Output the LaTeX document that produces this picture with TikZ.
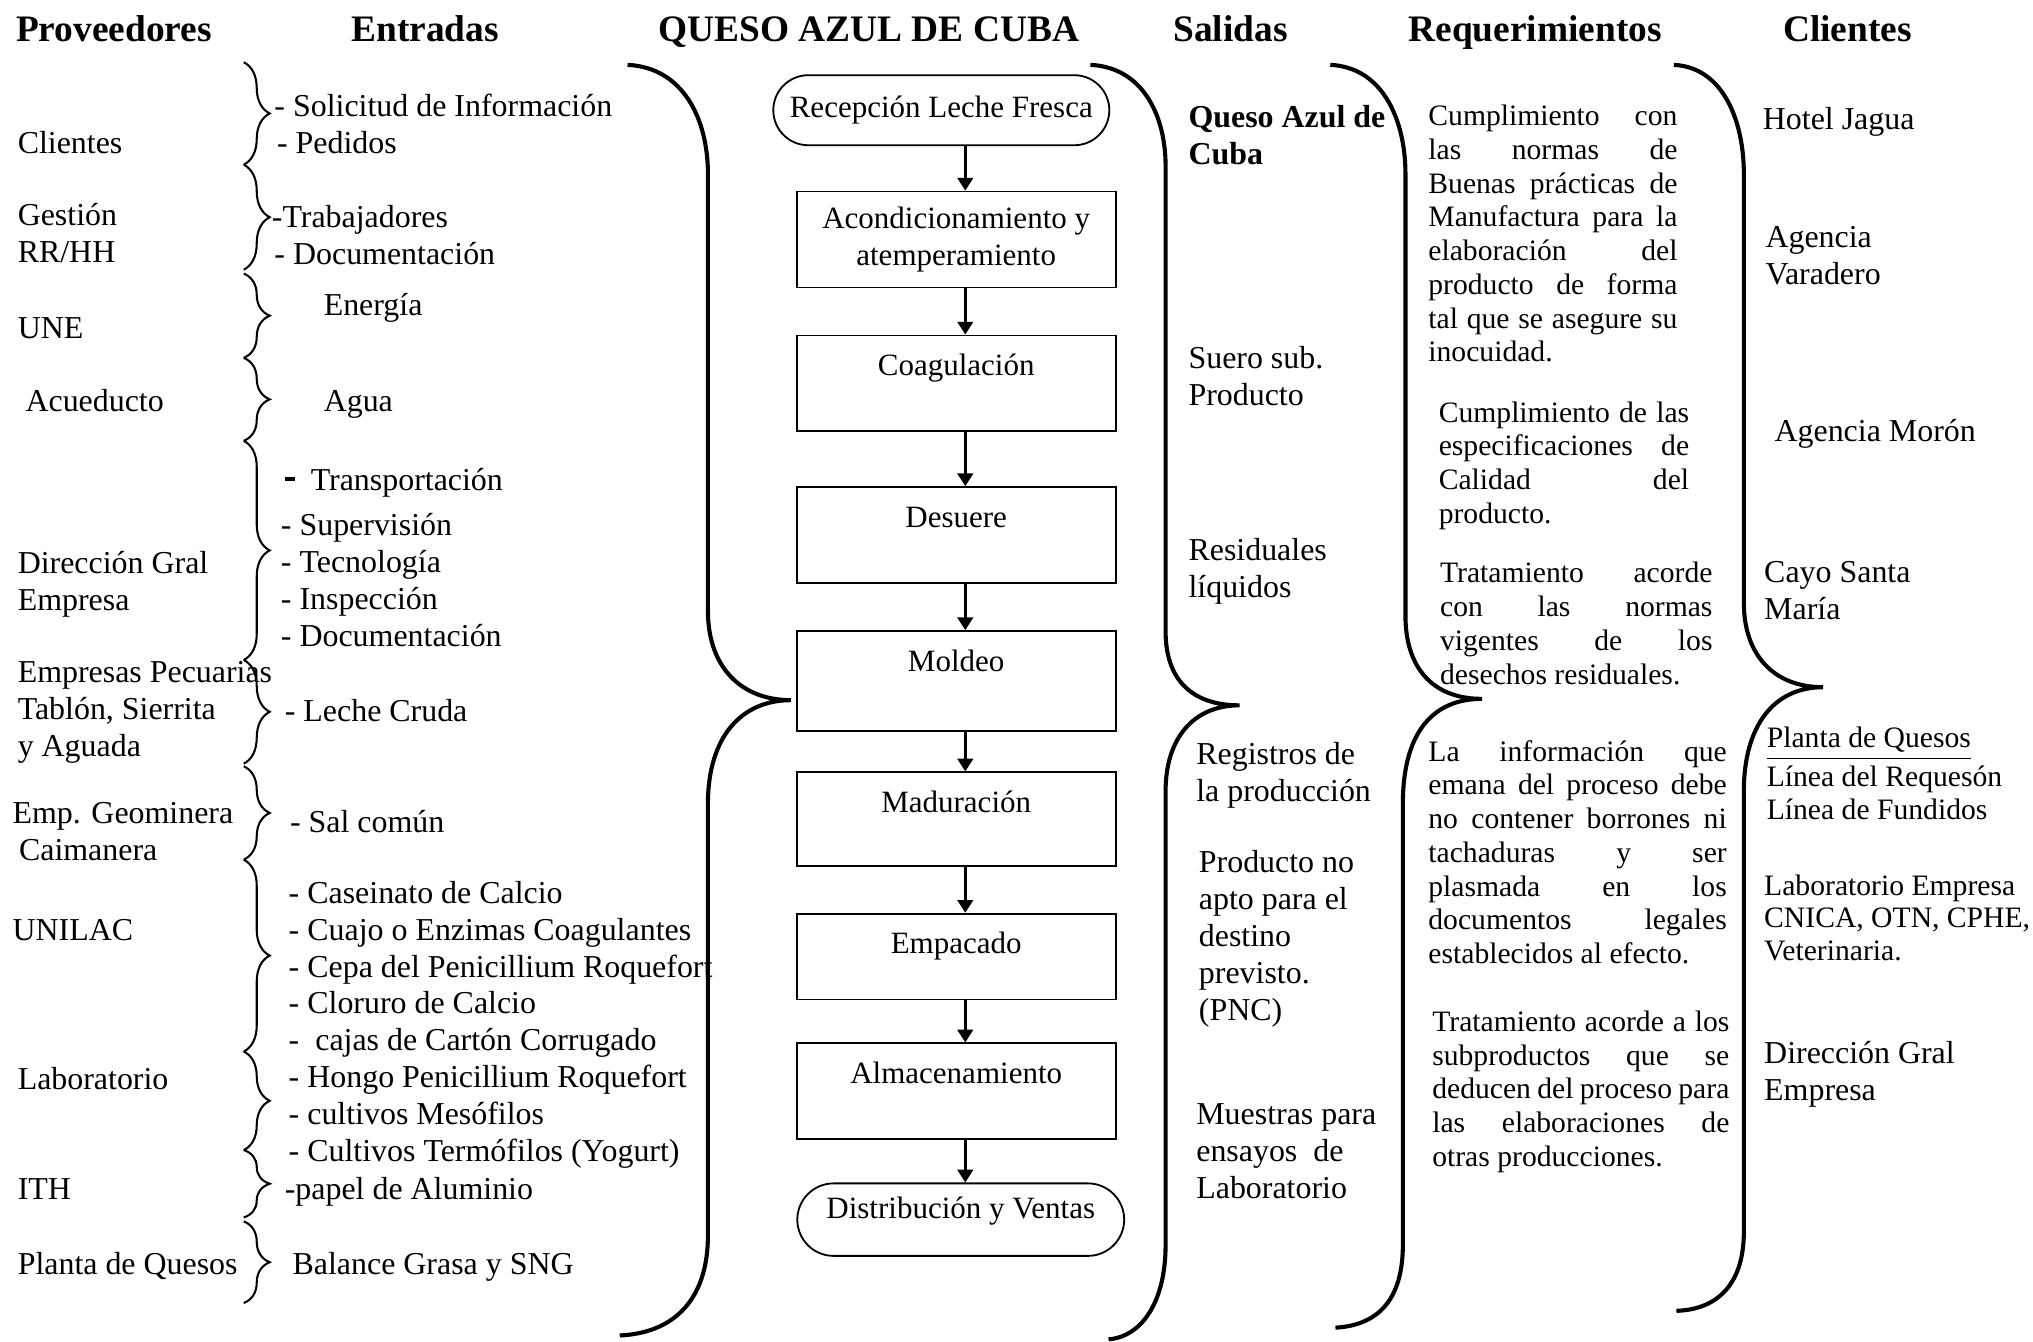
\documentclass[tikz,border=0pt]{standalone}
\usepackage{fontspec}
\setmainfont{Liberation Serif}
\usetikzlibrary{decorations.pathreplacing,arrows.meta}

\newlength{\anchoreq}
\newcommand{\jus}[1]{\makebox[\anchoreq][s]{#1}}

\begin{document}
\begin{tikzpicture}[x=0.01cm, y=-0.01cm,
    txt/.style={inner sep=0pt, anchor=west, align=left, yshift=-0.035cm, font=\fontsize{7}{8.1}\selectfont,
        execute at begin node=\strut, execute at end node=\strut},
    chico/.style={txt, font=\fontsize{6.5}{7.2}\selectfont},
    req/.style={txt, font=\fontsize{6.5}{7.4}\selectfont,
        execute at begin node={\setlength{\anchoreq}{#1}\strut}},
    tit/.style={inner sep=0pt, anchor=base, font=\fontsize{8.2}{9.8}\selectfont\bfseries},
    caja/.style={draw, line width=0.4pt, minimum width=2.46cm, inner sep=0pt, align=center, anchor=north, font=\fontsize{6.8}{8}\selectfont},
    paso/.style={caja, text height=8.8pt, text depth=#1},
    flecha/.style={-{Triangle[length=2.8pt, width=3.4pt]}, line width=0.6pt},
    llave/.style={decorate, decoration={brace, amplitude=0.2cm}, line width=0.45pt},
    grande/.style={line width=0.9pt}]
    \useasboundingbox (0,0) rectangle (1568,1035);

    \node[tit] (tprov) at (88,32) {Proveedores};
    \node[tit] (tent) at (328,32) {Entradas};
    \node[tit] (tproc) at (670,32) {QUESO AZUL DE CUBA};
    \node[tit] (tsal) at (949,32) {Salidas};
    \node[tit] (treq) at (1184,32) {Requerimientos};
    \node[tit] (tcli) at (1425,32) {Clientes};

    \node[txt] (prov1) at (13,109) {Clientes};
    \node[txt] (prov2) at (13,180.5) {Gestión\\RR/HH};
    \node[txt] (prov3) at (13,252) {UNE};
    \node[txt] (prov4) at (19,308) {Acueducto};
    \node[txt] (prov5) at (13,448.5) {Dirección Gral\\Empresa};
    \node[txt] (prov6) at (13,547.5) {Empresas Pecuarias\\Tablón, Sierrita\\y Aguada};
    \node[txt] (prov7) at (9,642) {Emp. Geominera\\\hspace{0.05cm}Caimanera};
    \node[txt] (prov8) at (9,716) {UNILAC};
    \node[txt] (prov9) at (13,831) {Laboratorio};
    \node[txt] (prov10) at (13,916) {ITH};
    \node[txt] (prov11) at (13,974) {Planta de Quesos};

    \foreach \a/\b in {48/127, 127/208, 211/276, 276/340, 340/509, 509/589,
                       591/663, 663/811, 811/887, 887/939, 942/1005}
        \draw[llave] (188,\a) -- (188,\b);

    \node[txt] (ent1) at (211,81) {- Solicitud de Información};
    \node[txt] (ent2) at (213,109) {- Pedidos};
    \node[txt] (ent3) at (209,166) {-Trabajadores};
    \node[txt] (ent4) at (211,195) {- Documentación};
    \node[txt] (ent5) at (249,234) {Energía};
    \node[txt] (ent6) at (249,308) {Agua};
    \node[txt] (ent7) at (219,369) {\rule[0.07cm]{0.08cm}{0.03cm}\hspace{0.12cm}Transportación};
    \node[txt] (ent8) at (216,448) {- Supervisión\\- Tecnología\\- Inspección\\- Documentación};
    \node[txt] (ent9) at (219,547) {- Leche Cruda};
    \node[txt] (ent10) at (223,633) {- Sal común};
    \node[txt] (ent11) at (222,788.5) {- Caseinato de Calcio\\- Cuajo o Enzimas Coagulantes\\
        - Cepa del Penicillium Roquefort\\- Cloruro de Calcio\\-\ \ cajas de Cartón Corrugado\\
        - Hongo Penicillium Roquefort\\- cultivos Mesófilos\\- Cultivos Termófilos (Yogurt)};
    \node[txt] (ent12) at (219,916) {-papel de Aluminio};
    \node[txt] (ent13) at (225,974) {Balance Grasa y SNG};

    \draw[grande] (484,50) .. controls (527,52) and (546,92) .. (546,134)
        -- (546,471) .. controls (546,515) and (572,540) .. (610,540)
        .. controls (572,540) and (546,568) .. (546,620)
        -- (546,953) .. controls (546,1000) and (522,1028) .. (478,1030);

    \node[caja, anchor=center, minimum width=2.59cm, minimum height=0.54cm,
        rounded corners=0.27cm] (recep) at (726,85) {Recepción Leche Fresca};
    \node[caja, minimum height=0.74cm] (acond) at (737.5,147) {Acondicionamiento y\\atemperamiento};
    \node[paso=12.1pt] (coag) at (737.5,258) {Coagulación};
    \node[paso=12.2pt] (desuere) at (737.5,375) {Desuere};
    \node[paso=13.1pt] (moldeo) at (737.5,486) {Moldeo};
    \node[paso=11.7pt] (madur) at (737.5,595) {Maduración};
    \node[paso=10pt] (empac) at (737.5,704) {Empacado};
    \node[paso=12.2pt] (almac) at (737.5,804) {Almacenamiento};
    \node[caja, minimum width=2.52cm, rounded corners=0.28cm, text height=7.7pt,
        text depth=8.2pt] (dist) at (741,912) {Distribución y Ventas};

    \draw[flecha] ([xshift=0.07cm]acond.north |- recep.south) -- ([xshift=0.07cm]acond.north);
    \foreach \a/\b in {acond/coag, coag/desuere, desuere/moldeo, moldeo/madur,
                       madur/empac, empac/almac}
        \draw[flecha] ([xshift=0.07cm]\a.south) -- ([xshift=0.07cm]\b.north);
    \draw[flecha] ([xshift=0.07cm]almac.south) -- ([xshift=0.07cm]almac.south |- dist.north);

    \draw[grande] (841,50) .. controls (882,52) and (899,90) .. (899,128)
        -- (899,487) .. controls (899,525) and (920,544) .. (956,544)
        .. controls (920,544) and (899,570) .. (899,610)
        -- (899,960) .. controls (899,1005) and (880,1031) .. (855,1033);

    \node[txt, font=\fontsize{7}{8.1}\selectfont\bfseries] (sal1) at (916,105) {Queso Azul de\\Cuba};
    \node[txt] (sal2) at (916,291) {Suero sub.\\Producto};
    \node[txt] (sal3) at (916,438.5) {Residuales\\líquidos};
    \node[txt] (sal4) at (922,596) {Registros de\\la producción};
    \node[txt] (sal5) at (924,722) {Producto no\\apto para el\\destino\\previsto.\\(PNC)};
    \node[txt] (sal6) at (922,888.5) {Muestras para\\ensayos\ \ de\\Laboratorio};

    \draw[grande] (1026,50) .. controls (1068,52) and (1084,95) .. (1084,134)
        -- (1084,475) .. controls (1084,515) and (1105,539) .. (1143,539)
        .. controls (1105,539) and (1082,565) .. (1082,620)
        -- (1082,960) .. controls (1082,1000) and (1065,1022) .. (1030,1024);

    \node[req=1.92cm] (req1) at (1101,180.5) {\jus{Cumplimiento con}\\\jus{las normas de}\\
        \jus{Buenas prácticas de}\\\jus{Manufactura para la}\\\jus{elaboración del}\\
        \jus{producto de forma}\\\jus{tal que se asegure su}\\inocuidad.};
    \node[req=1.93cm] (req2) at (1109,357) {\jus{Cumplimiento de las}\\\jus{especificaciones de}\\
        \jus{Calidad del}\\producto.};
    \node[req=2.10cm] (req3) at (1110,481) {\jus{Tratamiento acorde}\\\jus{con las normas}\\
        \jus{vigentes de los}\\desechos residuales.};
    \node[req=2.30cm] (req4) at (1101,657.5) {\jus{La información que}\\\jus{emana del proceso debe}\\
        \jus{no contener borrones ni}\\\jus{tachaduras y ser}\\\jus{plasmada en los}\\
        \jus{documentos legales}\\establecidos al efecto.};
    \node[req=2.29cm] (req5) at (1104,840) {\jus{Tratamiento acorde a los}\\\jus{subproductos que se}\\
        \jus{deducen del proceso para}\\\jus{las elaboraciones de}\\otras producciones.};

    \draw[grande] (1291,50) .. controls (1330,52) and (1345,95) .. (1345,134)
        -- (1345,465) .. controls (1345,505) and (1368,530) .. (1406,530)
        .. controls (1368,530) and (1345,560) .. (1345,610)
        -- (1345,950) .. controls (1345,990) and (1325,1010) .. (1293,1011);

    \node[txt] (cli1) at (1359,91) {Hotel Jagua};
    \node[txt] (cli2) at (1361,197.5) {Agencia\\Varadero};
    \node[txt] (cli3) at (1368,331) {Agencia Morón};
    \node[txt] (cli4) at (1360,456.5) {Cayo Santa\\María};
    \node[chico] (cli5) at (1362,596.5) {\underline{Planta de Quesos}\\Línea del Requesón\\Línea de Fundidos};
    \node[chico] (cli6) at (1360,708) {Laboratorio Empresa\\CNICA, OTN, CPHE,\\Veterinaria.};
    \node[txt] (cli7) at (1360,827) {Dirección Gral\\Empresa};
\end{tikzpicture}
\end{document}
